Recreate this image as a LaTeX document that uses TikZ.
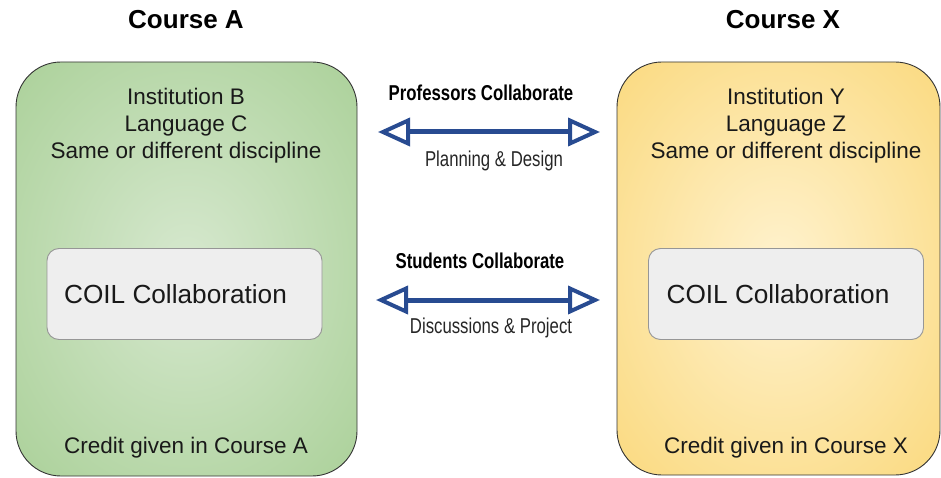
\documentclass[tikz,border=0pt]{standalone}
\usepackage{fontspec}
\setmainfont{Liberation Sans}
\newfontfamily\narrowfont[FakeStretch=0.78]{Liberation Sans}
\usetikzlibrary{arrows.meta}

\definecolor{arrowblue}{RGB}{40,75,145}
\definecolor{coilgray}{RGB}{238,238,238}
\definecolor{coiledge}{RGB}{150,150,150}
\definecolor{inktext}{RGB}{25,25,25}
\pgfdeclareradialshading{greenglow}{\pgfpoint{0bp}{0bp}}{rgb(0bp)=(0.84,0.91,0.81); rgb(55bp)=(0.58,0.77,0.49); rgb(100bp)=(0.58,0.77,0.49)}
\pgfdeclareradialshading{yellowglow}{\pgfpoint{0bp}{0bp}}{rgb(0bp)=(1,0.95,0.81); rgb(55bp)=(0.97,0.80,0.33); rgb(100bp)=(0.97,0.80,0.33)}

\tikzset{
	coursebox/.style={draw=black!80, line width=0.9pt, rounded corners=45pt, inner sep=0pt},
	coilbox/.style={draw=coiledge, fill=coilgray, line width=0.9pt, rounded corners=12pt,
		minimum width=275pt, minimum height=91pt, inner sep=0pt},
	coursetitle/.style={font=\fontsize{26}{30}\selectfont\bfseries, text=black, inner sep=0pt, anchor=base},
	info/.style={font=\fontsize{22.5}{27}\selectfont, text=inktext, align=center, inner sep=0pt},
	coiltext/.style={font=\fontsize{26.2}{30}\selectfont, text=inktext, inner sep=0pt, anchor=base},
	head/.style={font=\fontsize{21.5}{25}\selectfont\narrowfont\bfseries, inner sep=0pt, anchor=base},
	sub/.style={font=\fontsize{21.5}{25}\selectfont\narrowfont, text=black!85, inner sep=0pt, anchor=base},
	collab/.style={arrowblue, line width=5pt,
		{Triangle[open,length=32pt,width=28pt,line width=4pt]}-{Triangle[open,length=32pt,width=28pt,line width=4pt]}}
}

\begin{document}
\begin{tikzpicture}[x=1pt,y=-1pt]
	\useasboundingbox (0,0) rectangle (941,478);
	% course boxes
	\node[coursebox, shading=greenglow, minimum width=341pt, minimum height=414pt] (boxA) at (186.5,269) {};
	\node[coursebox, shading=yellowglow, minimum width=323pt, minimum height=413pt] (boxX) at (778.5,268.5) {};
	\node[coursetitle] (titleA) at (186,29) {Course A};
	\node[coursetitle] (titleX) at (783,29) {Course X};
	% text inside A
	\node[info, anchor=north] (infoA) at (186,88) {Institution B\\Language C\\Same or different discipline};
	\node[coilbox] (coilA) at (184.5,294) {};
	\node[coiltext] (coilAtext) at (175.5,303) {COIL Collaboration};
	\node[info, anchor=base] (creditA) at (186,453) {Credit given in Course A};
	% text inside X
	\node[info, anchor=north] (infoX) at (786,88) {Institution Y\\Language Z\\Same or different discipline};
	\node[coilbox] (coilX) at (786,294) {};
	\node[coiltext] (coilXtext) at (778,303) {COIL Collaboration};
	\node[info, anchor=base] (creditX) at (786,453) {Credit given in Course X};
	% collaboration arrows
	\node[head] (prof) at (481,101) {Professors Collaborate};
	\node[sub] (plan) at (494,167) {Planning \& Design};
	\coordinate (profL) at (378,132);
	\coordinate (profR) at (600,132);
	\draw[collab] (profL) -- (profR);
	\node[head] (stud) at (480,268) {Students Collaborate};
	\node[sub] (disc) at (491,333) {Discussions \& Project};
	\coordinate (studL) at (376,300);
	\coordinate (studR) at (600,300);
	\draw[collab] (studL) -- (studR);
\end{tikzpicture}
\end{document}
